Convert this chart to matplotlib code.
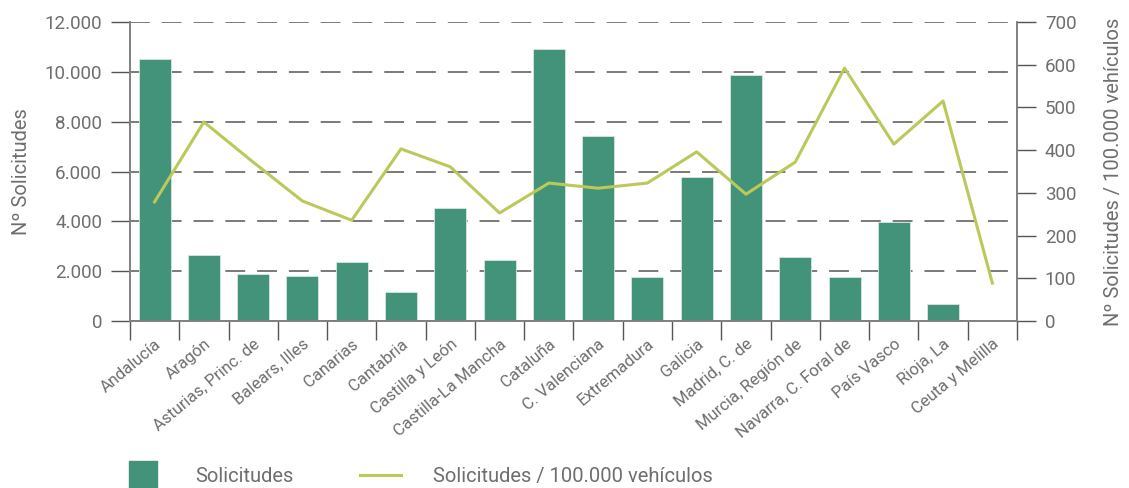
import numpy as np
import matplotlib.pyplot as plt
from matplotlib.lines import Line2D
from matplotlib.ticker import FuncFormatter, FixedLocator

regiones = ["Andalucía", "Aragón", "Asturias, Princ. de", "Balears, Illes", "Canarias",
            "Cantabria", "Castilla y León", "Castilla-La Mancha", "Cataluña", "C. Valenciana",
            "Extremadura", "Galicia", "Madrid, C. de", "Murcia, Región de", "Navarra, C. Foral de",
            "País Vasco", "Rioja, La", "Ceuta y Melilla"]
solicitudes = [10500, 2650, 1870, 1800, 2360, 1150, 4530, 2450, 10920, 7420,
               1760, 5780, 9870, 2560, 1760, 3980, 690, 50]
por_100k = [279, 466, 372, 281, 236, 403, 361, 253, 323, 311,
            323, 396, 297, 372, 592, 414, 515, 89]

bar_color = "#42937a"
line_color = "#bcc85a"
grey = "#6e6e6e"
plt.rcParams["font.family"] = ["Roboto", "DejaVu Sans"]

fig = plt.figure(figsize=(11.29, 4.88), dpi=100)
ax = fig.add_axes([0.1151, 0.342, 0.7857, 0.613])
ax2 = ax.twinx()

x = np.arange(len(regiones))
ax.bar(x, solicitudes, width=0.65, color=bar_color, edgecolor="#d8e8e0", linewidth=0.6, zorder=2)
ax2.plot(x, por_100k, color=line_color, lw=2.2, zorder=3)

ax.set_xlim(-0.5, len(regiones) - 0.5)
ax.set_ylim(0, 12000)
ax2.set_ylim(0, 700)
ax.set_yticks(np.arange(0, 12001, 2000))
ax2.set_yticks(np.arange(0, 701, 100))
ax.yaxis.set_major_formatter(FuncFormatter(lambda v, p: f"{int(v):,}".replace(",", ".")))

ax.grid(axis="y", color="#707070", lw=1.3, linestyle=(0, (11, 6.6)), zorder=0)
ax.set_axisbelow(True)

ax.set_xticks(x)
ax.set_xticklabels(regiones, rotation=40, ha="right", rotation_mode="anchor",
                   fontsize=12, color=grey)
ax.xaxis.set_minor_locator(FixedLocator(np.arange(-0.5, len(regiones), 1)))
ax.tick_params(axis="x", which="major", length=0, pad=11)
ax.tick_params(axis="x", which="minor", length=14, width=1, color="#555555")
ax.tick_params(axis="y", length=14, width=1, color="#555555", labelsize=13.5, labelcolor=grey, pad=6)
ax2.tick_params(axis="y", length=14, width=1, color="#555555", labelsize=13.5, labelcolor=grey, pad=6)

for a in (ax, ax2):
    a.spines["top"].set_visible(False)
    for s in ("left", "right", "bottom"):
        a.spines[s].set_color("#808080")
        a.spines[s].set_linewidth(1.2)

ax.set_ylabel("Nº Solicitudes", fontsize=14.5, color=grey, labelpad=10)
ax2.set_ylabel("Nº Solicitudes / 100.000 vehículos", fontsize=14.5, color=grey, labelpad=20)

handles = [Line2D([], [], marker="s", markersize=20, color=bar_color, linestyle="none"),
           Line2D([], [], color=line_color, lw=2.2)]
fig.legend(handles, ["Solicitudes", "Solicitudes / 100.000 vehículos"],
           loc="lower left", bbox_to_anchor=(0.093, -0.033), ncol=2, frameon=False,
           fontsize=14.5, labelcolor=grey, handlelength=2.0, handletextpad=1.6, columnspacing=3.3)

fig.savefig("out.png", dpi=100)
